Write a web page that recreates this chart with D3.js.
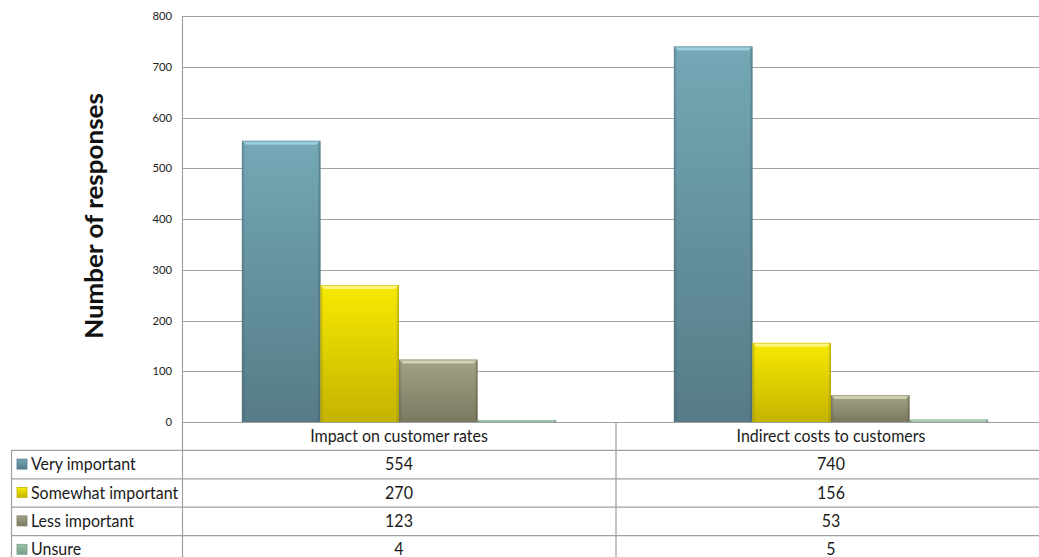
<!DOCTYPE html>
<html lang="en">
<head>
    <meta charset="UTF-8">
    <title>Number of responses</title>
    <script src="https://d3js.org/d3.v7.min.js"></script>
    <style>
        body { margin: 0; background: #fff; }
        svg { display: block; }
        text { font-family: Lato, "Open Sans", sans-serif; }
    </style>
</head>
<body>
    <svg id="chart" width="1039" height="557"></svg>
    <script>
        const categories = ["Impact on customer rates", "Indirect costs to customers"];
        const series = ["Very important", "Somewhat important", "Less important", "Unsure"];
        const veryImportant = [554, 740];
        const somewhatImportant = [270, 156];
        const lessImportant = [123, 53];
        const unsure = [4, 5];
        const yTicks = [0, 100, 200, 300, 400, 500, 600, 700, 800];

        const values = [veryImportant, somewhatImportant, lessImportant, unsure];

        // bevel, light and dark colours for the bars
        const colors = [
            { top: "#9fd3e0", hi: "#74a8b6", lo: "#557b87" },
            { top: "#fff68a", hi: "#f7ea00", lo: "#c4b300" },
            { top: "#d6d6b8", hi: "#a3a385", lo: "#7b7861" },
            { top: "#c8e6d2", hi: "#98c4aa", lo: "#76a088" }
        ];

        const svg = d3.select("#chart");
        const sx = 0.94; // squeeze the text horizontally like the original

        const plotLeft = 183, plotRight = 1047, plotTop = 16, plotBottom = 422;
        const rowH = 28.4;

        const x0 = d3.scaleBand().domain(categories).range([plotLeft, plotRight]);
        const x1 = d3.scaleBand().domain(series).range([0, x0.bandwidth()])
            .paddingInner(0).paddingOuter(0.75);
        const y = d3.scaleLinear().domain([0, 800]).range([plotBottom, plotTop]);

        // gradients
        const defs = svg.append("defs");
        colors.forEach((c, i) => {
            const g = defs.append("linearGradient").attr("id", "grad" + i)
                .attr("x1", 0).attr("y1", 0).attr("x2", 0).attr("y2", 1);
            g.append("stop").attr("offset", "0%").attr("stop-color", c.hi);
            g.append("stop").attr("offset", "100%").attr("stop-color", c.lo);
            const h = defs.append("linearGradient").attr("id", "side" + i)
                .attr("x1", 0).attr("y1", 0).attr("x2", 1).attr("y2", 0);
            h.append("stop").attr("offset", "0%").attr("stop-color", "#000").attr("stop-opacity", 0.18);
            h.append("stop").attr("offset", "4%").attr("stop-color", "#000").attr("stop-opacity", 0);
            h.append("stop").attr("offset", "96%").attr("stop-color", "#000").attr("stop-opacity", 0);
            h.append("stop").attr("offset", "100%").attr("stop-color", "#000").attr("stop-opacity", 0.22);
        });

        // gridlines
        svg.append("g")
            .selectAll("line")
            .data(yTicks)
            .enter().append("line")
            .attr("x1", plotLeft).attr("x2", 1039)
            .attr("y1", d => Math.round(y(d)) + 0.5)
            .attr("y2", d => Math.round(y(d)) + 0.5)
            .attr("stroke", "#a3a3a3")
            .attr("stroke-width", 1.2);

        // y tick labels
        svg.append("g")
            .selectAll("text")
            .data(yTicks)
            .enter().append("text")
            .attr("transform", d => `translate(172,${y(d)}) scale(${sx},1)`)
            .attr("dy", "0.35em")
            .attr("text-anchor", "end")
            .attr("font-size", 12)
            .attr("fill", "#222")
            .text(d => d);

        // y axis title
        svg.append("text")
            .attr("transform", `translate(103,216) scale(${sx},1) rotate(-90)`)
            .attr("text-anchor", "middle")
            .attr("font-size", 26)
            .attr("font-weight", "bold")
            .attr("fill", "#111")
            .text("Number of responses");

        // bars
        const groups = svg.append("g")
            .selectAll("g")
            .data(categories)
            .enter().append("g")
            .attr("transform", d => `translate(${x0(d)},0)`);

        groups.each(function (cat, ci) {
            const gg = d3.select(this);
            series.forEach((s, si) => {
                const v = values[si][ci];
                const bx = x1(s), bw = x1.bandwidth();
                const by = y(v), bh = y(0) - y(v);
                gg.append("rect")
                    .attr("x", bx).attr("y", by)
                    .attr("width", bw).attr("height", bh)
                    .attr("fill", `url(#grad${si})`);
                gg.append("rect")
                    .attr("x", bx).attr("y", by)
                    .attr("width", bw).attr("height", bh)
                    .attr("fill", `url(#side${si})`);
                const bev = Math.min(4, bh);
                gg.append("path")
                    .attr("d", `M${bx},${by} L${bx + bw},${by} L${bx + bw - bev},${by + bev} L${bx + bev},${by + bev} Z`)
                    .attr("fill", colors[si].top)
                    .attr("opacity", 0.9);
                gg.append("rect")
                    .attr("x", bx + 0.5).attr("y", by + 0.5)
                    .attr("width", bw - 1).attr("height", Math.max(bh - 1, 0))
                    .attr("fill", "none")
                    .attr("stroke", colors[si].lo)
                    .attr("stroke-opacity", 0.5);
            });
        });

        // axis line + table frame
        const lines = svg.append("g").attr("stroke", "#a0a0a0").attr("stroke-width", 1.2);
        lines.append("line").attr("x1", plotLeft - 0.5).attr("x2", plotLeft - 0.5).attr("y1", plotTop).attr("y2", 557);
        lines.append("line").attr("x1", plotLeft).attr("x2", 1039).attr("y1", plotBottom + 0.5).attr("y2", plotBottom + 0.5);
        lines.append("line").attr("x1", x0(categories[1]) + 1).attr("x2", x0(categories[1]) + 1)
            .attr("y1", plotBottom).attr("y2", 557);
        lines.append("line").attr("x1", 11.5).attr("x2", 11.5).attr("y1", plotBottom + rowH).attr("y2", 557);
        series.forEach((s, i) => {
            const ry = plotBottom + rowH * (i + 1);
            lines.append("line").attr("x1", 11).attr("x2", 1039)
                .attr("y1", ry).attr("y2", ry);
        });

        // table header: category names
        svg.append("g")
            .selectAll("text")
            .data(categories)
            .enter().append("text")
            .attr("transform", d => `translate(${x0(d) + x0.bandwidth() / 2},${plotBottom + rowH / 2}) scale(${sx},1)`)
            .attr("dy", "0.36em")
            .attr("text-anchor", "middle")
            .attr("font-size", 17)
            .attr("fill", "#1a1a1a")
            .text(d => d);

        // table rows
        series.forEach((s, si) => {
            const cy = plotBottom + rowH * (si + 1) + rowH / 2 - 0.5;
            svg.append("rect")
                .attr("x", 17).attr("y", cy - 5)
                .attr("width", 10).attr("height", 10)
                .attr("fill", `url(#grad${si})`)
                .attr("stroke", colors[si].lo)
                .attr("stroke-width", 0.8);
            svg.append("text")
                .attr("transform", `translate(31,${cy}) scale(${sx},1)`)
                .attr("dy", "0.36em")
                .attr("font-size", 17)
                .attr("fill", "#1a1a1a")
                .text(s);
            categories.forEach((c, ci) => {
                svg.append("text")
                    .attr("transform", `translate(${x0(c) + x0.bandwidth() / 2},${cy}) scale(${sx},1)`)
                    .attr("dy", "0.36em")
                    .attr("text-anchor", "middle")
                    .attr("font-size", 17)
                    .attr("fill", "#1a1a1a")
                    .text(values[si][ci]);
            });
        });
    </script>
</body>
</html>
